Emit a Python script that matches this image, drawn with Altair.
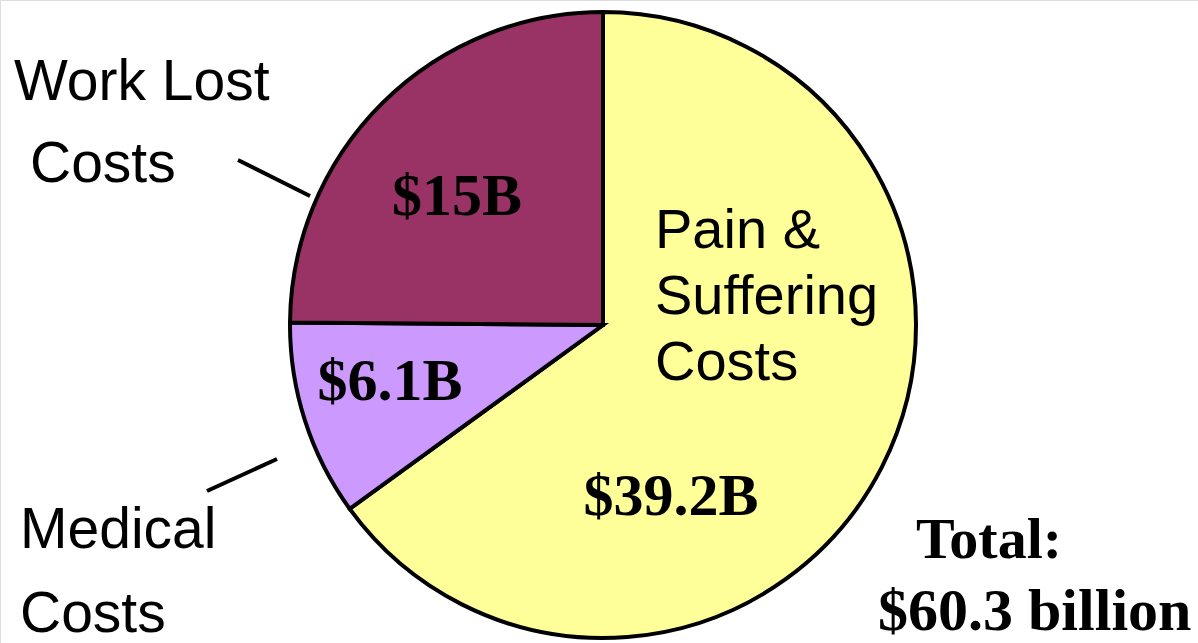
import altair as alt
import pandas as pd

categories = ["Pain & Suffering Costs", "Medical Costs", "Work Lost Costs"]
values = [39.2, 6.1, 15.0]
colors = ["#FFFF99", "#CC99FF", "#993366"]
total_label = "$60.3 billion"

W, H = 1198, 643
CX, CY, R = 603, 325, 313

pie_df = pd.DataFrame({"category": categories, "value": values, "idx": list(range(len(categories)))})

base_props = dict(width=W, height=H)

pie = alt.Chart(pie_df).mark_arc(stroke="black", strokeWidth=4, radius=R).encode(
    theta=alt.Theta("value:Q", stack=True),
    color=alt.Color("category:N", scale=alt.Scale(domain=categories, range=colors), legend=None),
    order=alt.Order("idx:Q"),
    x=alt.value(CX),
    y=alt.value(CY),
)

def txt(s, x, y, font, size, weight="normal", align="left", lh=None):
    kw = dict(font=font, fontSize=size, fontWeight=weight, align=align, baseline="alphabetic",
              color="black", lineBreak="\n")
    if lh:
        kw["lineHeight"] = lh
    return alt.Chart(pd.DataFrame({"t": [s]})).mark_text(**kw).encode(
        text="t:N", x=alt.value(x), y=alt.value(y)
    )

def fmt(v):
    return f"${v:g}B"

serif = "Liberation Serif"
sans = "Liberation Sans"

layers = [
    pie,
    txt(fmt(values[2]), 457, 215, serif, 60, "bold", "center"),
    txt(fmt(values[1]), 390, 400, serif, 60, "bold", "center"),
    txt(fmt(values[0]), 671, 515, serif, 60, "bold", "center"),
    txt("Pain &\nSuffering\nCosts", 655, 248, sans, 56, "normal", "left", 66),
    txt("Work Lost", 14, 100, sans, 57, "normal", "left"),
    txt("Costs", 30, 182, sans, 57, "normal", "left"),
    txt("Medical", 20, 548, sans, 57, "normal", "left"),
    txt("Costs", 20, 632, sans, 57, "normal", "left"),
    txt("Total:", 916, 558, serif, 58, "bold", "left"),
    txt(total_label, 878, 630, serif, 60, "bold", "left"),
]

rule_df = pd.DataFrame({"a": [0]})
rule1 = alt.Chart(rule_df).mark_rule(color="black", strokeWidth=4).encode(
    x=alt.value(238), x2=alt.value(310), y=alt.value(160), y2=alt.value(196))
rule2 = alt.Chart(rule_df).mark_rule(color="black", strokeWidth=4).encode(
    x=alt.value(277), x2=alt.value(207), y=alt.value(459), y2=alt.value(491))
layers += [rule1, rule2]

chart = alt.layer(*layers).properties(
    width=W, height=H, padding=0, autosize=alt.AutoSizeParams(type="none")
).configure_view(stroke=None).configure(background="white")

chart.save("out.html", embed_options={"renderer": "svg", "actions": False})
